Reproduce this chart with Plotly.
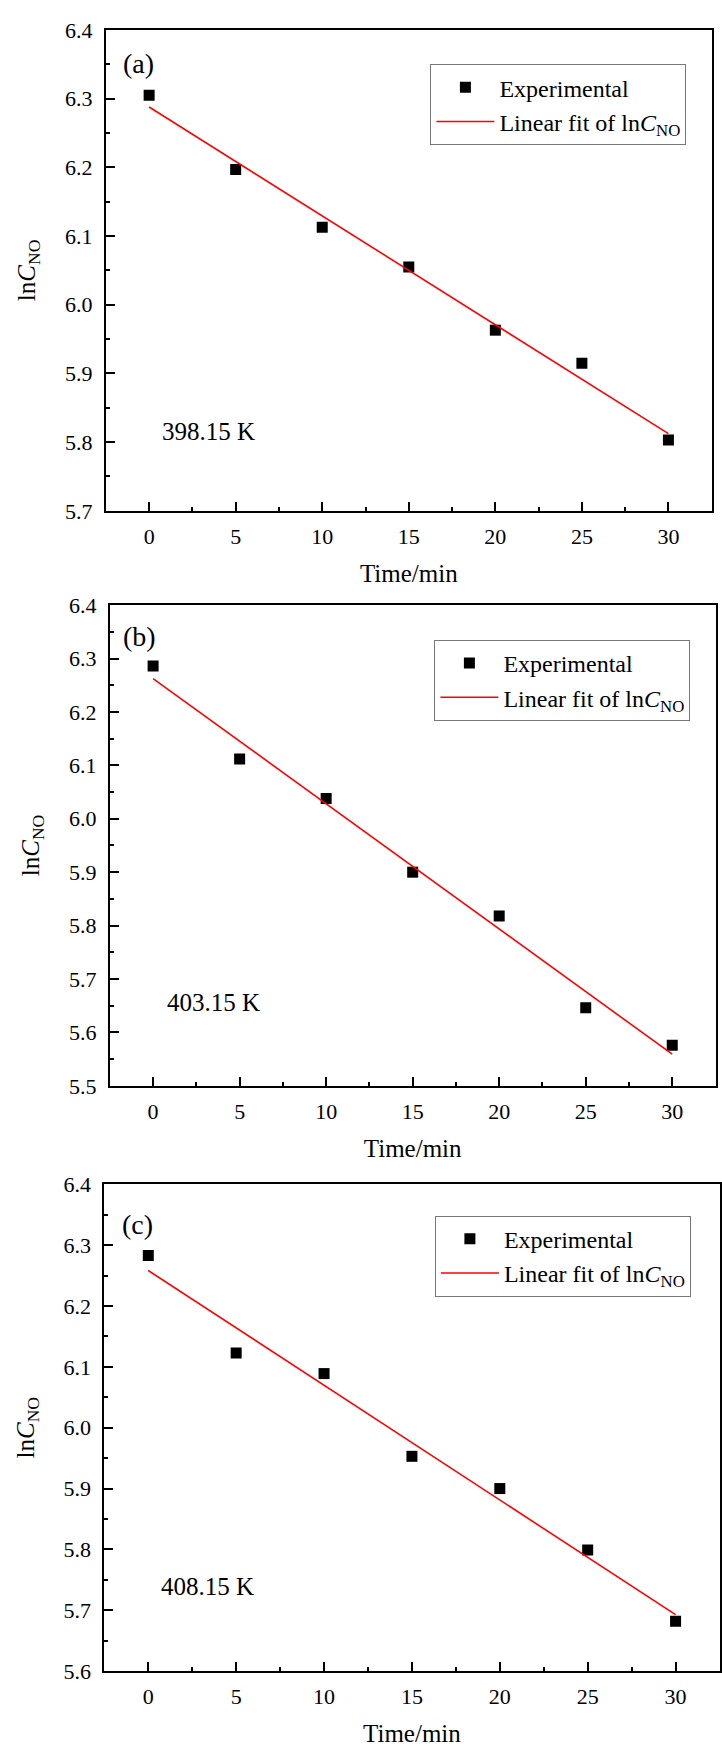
import numpy as np
import plotly.graph_objects as go

# ---------------- data ----------------
time_min = [0, 5, 10, 15, 20, 25, 30]
ln_c_398 = [6.305, 6.197, 6.113, 6.055, 5.963, 5.915, 5.803]
ln_c_403 = [6.286, 6.112, 6.038, 5.900, 5.818, 5.646, 5.576]
ln_c_408 = [6.283, 6.123, 6.089, 5.953, 5.900, 5.799, 5.682]
temps = ["398.15 K", "403.15 K", "408.15 K"]
panel_tags = ["(a)", "(b)", "(c)"]
y_ranges = [[5.7, 6.4], [5.5, 6.4], [5.6, 6.4]]
x_range = [-2.5, 32.5]

W, H = 722, 1758
FONT = "Liberation Serif, Times New Roman, serif"

# panel pixel boxes (left, right, top, bottom)
boxes = [(106, 712.7, 18.3, 506), (110, 716.5, 601.7, 1089.3), (104.5, 720.5, 1189.3, 1683)]
legend_tl = [(431, 53), (435, 637), (435.5, 1221)]
label_pos = [(-1.6, 6.352), (-1.85, 6.342), (-1.6, 6.334)]
temp_pos = [(0.62, 5.816), (0.66, 5.656), (0.63, 5.739)]

series = [ln_c_398, ln_c_403, ln_c_408]

fig = go.Figure()
annotations = []
for i, ys in enumerate(series):
    sfx = "" if i == 0 else str(i + 1)
    leg = "legend" if i == 0 else f"legend{i+1}"
    t = np.array(time_min, dtype=float)
    slope, icpt = np.polyfit(t, np.array(ys), 1)
    tfit = np.array([min(time_min), max(time_min)], dtype=float)
    fig.add_trace(go.Scatter(
        x=time_min, y=ys, mode="markers", name="Experimental",
        marker=dict(symbol="square", size=11, color="black"),
        xaxis="x" + sfx, yaxis="y" + sfx, legend=leg))
    fig.add_trace(go.Scatter(
        x=tfit, y=icpt + slope * tfit, mode="lines",
        name="Linear fit of ln<i>C</i><sub>NO</sub>",
        line=dict(color="red", width=1.6),
        xaxis="x" + sfx, yaxis="y" + sfx, legend=leg))

    l, r, tp, bt = boxes[i]
    axis_common = dict(
        showline=True, linecolor="black", linewidth=2, mirror=True,
        ticks="inside", ticklen=9, tickwidth=2, tickcolor="black",
        showgrid=False, zeroline=False,
        tickfont=dict(family=FONT, size=22, color="black"),
    )
    fig.update_layout({
        "xaxis" + sfx: dict(
            domain=[l / W, r / W], range=x_range, dtick=5, tick0=0,
            anchor="y" + sfx, ticklabelstandoff=5,
            minor=dict(ticks="inside", ticklen=4, tickwidth=2, dtick=2.5, tick0=0, tickcolor="black"),
            title=dict(text="Time/min", font=dict(family=FONT, size=25, color="black"), standoff=16),
            **axis_common),
        "yaxis" + sfx: dict(
            domain=[1 - bt / H, 1 - tp / H], range=y_ranges[i], dtick=0.1, tick0=0,
            tickformat=".1f", anchor="x" + sfx, ticklabelstandoff=7,
            minor=dict(ticks="inside", ticklen=4, tickwidth=2, dtick=0.05, tick0=0, tickcolor="black"),
            title=dict(text="ln<i>C</i><sub>NO</sub>", font=dict(family=FONT, size=25, color="black"), standoff=22),
            **axis_common),
        leg: dict(
            x=legend_tl[i][0] / W, y=1 - legend_tl[i][1] / H, xanchor="left", yanchor="top",
            bgcolor="white", bordercolor="#777777", borderwidth=1,
            font=dict(family=FONT, size=24, color="black"), itemwidth=58,
            tracegroupgap=0),
    })
    annotations.append(dict(
        x=label_pos[i][0], y=label_pos[i][1], xref="x" + sfx, yref="y" + sfx,
        text=panel_tags[i], showarrow=False, xanchor="left", yanchor="middle",
        font=dict(family=FONT, size=28, color="black")))
    annotations.append(dict(
        x=temp_pos[i][0], y=temp_pos[i][1], xref="x" + sfx, yref="y" + sfx,
        text=temps[i], showarrow=False, xanchor="left", yanchor="middle",
        font=dict(family=FONT, size=25, color="black")))

fig.update_layout(
    width=W, height=H, margin=dict(l=0, r=0, t=0, b=0),
    paper_bgcolor="white", plot_bgcolor="white",
    annotations=annotations, showlegend=True,
    font=dict(family=FONT, color="black"),
)

fig.write_html("out.html")
